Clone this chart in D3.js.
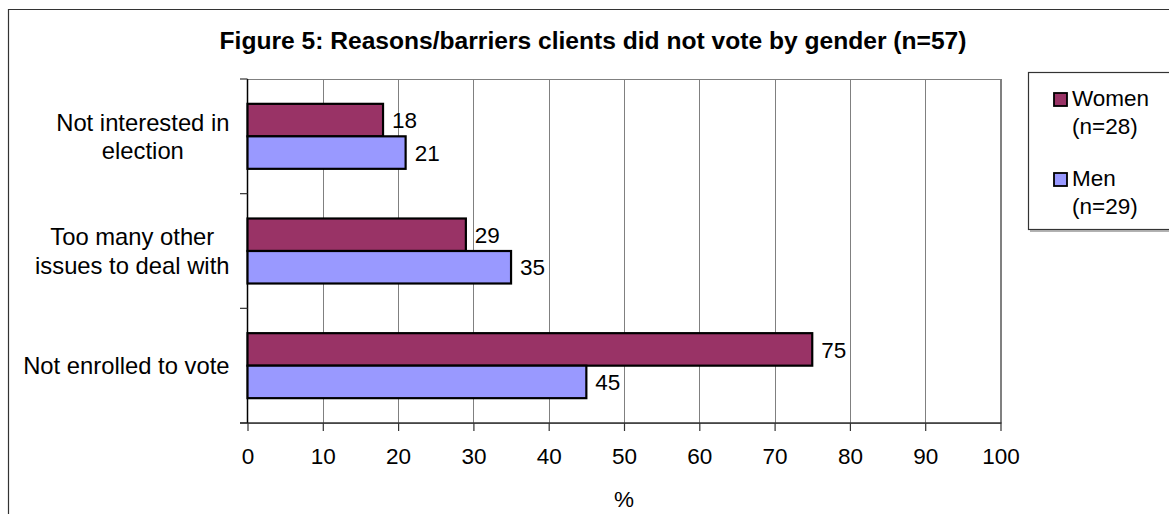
<!DOCTYPE html>
<html>
<head>
<meta charset="utf-8">
<script src="https://cdn.jsdelivr.net/npm/d3@7"></script>
<style>
  html, body { margin: 0; padding: 0; background: #fff; }
  svg { display: block; }
  text { font-family: "Liberation Sans", Arial, sans-serif; fill: #000; }
</style>
</head>
<body>
<svg id="chart" width="1169" height="514"></svg>
<script>
// Reasons for not voting, percentage of clients by gender
const categories = [
  ["Not interested in", "election"],
  ["Too many other", "issues to deal with"],
  ["Not enrolled to vote"]
];
const seriesNames = ["Women", "Men"];
const seriesLegend = [["Women", "(n=28)"], ["Men", "(n=29)"]];
const womenValues = [18, 29, 75];
const menValues = [21, 35, 45];
const xTicks = [0, 10, 20, 30, 40, 50, 60, 70, 80, 90, 100];
const colors = { Women: "#993366", Men: "#9999FF" };

const svg = d3.select("#chart");
const W = 1169, H = 514;

// outer chart frame (only top and left edges fall inside the view)
svg.append("path")
  .attr("d", `M8.5,${H} L8.5,9.5 L${W},9.5`)
  .attr("fill", "none").attr("stroke", "#333").attr("stroke-width", 1.2);

// title
svg.append("text")
  .attr("x", 593).attr("y", 49)
  .attr("text-anchor", "middle")
  .style("font-size", "24.6px").style("font-weight", "bold")
  .text("Figure 5: Reasons/barriers clients did not vote by gender (n=57)");

const plot = { left: 247.5, right: 1000.5, top: 79, bottom: 423 };

const x = d3.scaleLinear().domain([0, 100]).range([plot.left, plot.right]);
const catIdx = d3.range(categories.length);
const y = d3.scaleBand().domain(catIdx).range([plot.top, plot.bottom]).padding(0);

// plot area border (top/right visible)
svg.append("rect")
  .attr("x", plot.left).attr("y", plot.top + 0.5)
  .attr("width", plot.right - plot.left).attr("height", plot.bottom - plot.top)
  .attr("fill", "none").attr("stroke", "#808080").attr("stroke-width", 1);

// vertical gridlines
svg.append("g").selectAll("line")
  .data(xTicks.filter(d => d > 0))
  .join("line")
  .attr("x1", d => Math.round(x(d)) + 0.5).attr("x2", d => Math.round(x(d)) + 0.5)
  .attr("y1", plot.top).attr("y2", plot.bottom)
  .attr("stroke", "#808080").attr("stroke-width", 1);

// x axis
const xAxis = d3.axisBottom(x).tickValues(xTicks).tickSize(8).tickPadding(18).tickSizeOuter(0);
const gx = svg.append("g").attr("transform", `translate(0,${plot.bottom})`).call(xAxis);
gx.select(".domain").remove();
gx.selectAll(".tick line").attr("stroke", "#333").attr("stroke-width", 1.2);
gx.selectAll(".tick text").style("font-size", "22.5px").attr("fill", "#000")
  .attr("font-family", null).attr("dy", "0.71em").attr("y", 25);
svg.append("line")
  .attr("x1", 240).attr("x2", plot.right + 1)
  .attr("y1", plot.bottom).attr("y2", plot.bottom)
  .attr("stroke", "#333").attr("stroke-width", 1.5);

// y axis with tick marks between categories
svg.append("line")
  .attr("x1", plot.left).attr("x2", plot.left)
  .attr("y1", plot.top).attr("y2", plot.bottom)
  .attr("stroke", "#000").attr("stroke-width", 1.5);
const yTickPos = catIdx.map(i => y(i)).concat([plot.bottom]);
svg.append("g").selectAll("line")
  .data(yTickPos)
  .join("line")
  .attr("x1", 240).attr("x2", plot.left)
  .attr("y1", d => d).attr("y2", d => d)
  .attr("stroke", "#333").attr("stroke-width", 1.2);

// x axis title
svg.append("text")
  .attr("x", (plot.left + plot.right) / 2).attr("y", 507)
  .attr("text-anchor", "middle")
  .style("font-size", "22.5px")
  .text("%");

// bars
const barGroupH = 65;
const sub = d3.scaleBand().domain(seriesNames).range([0, barGroupH]).padding(0);
const rows = catIdx.map(i => ({ i, Women: womenValues[i], Men: menValues[i] }));

const gBars = svg.append("g");
rows.forEach(r => {
  const y0 = y(r.i) + (y.bandwidth() - barGroupH) / 2;
  seriesNames.forEach(s => {
    gBars.append("rect")
      .attr("x", x(0))
      .attr("y", y0 + sub(s))
      .attr("width", x(r[s]) - x(0))
      .attr("height", sub.bandwidth())
      .attr("fill", colors[s])
      .attr("stroke", "#000").attr("stroke-width", 2.2);
    gBars.append("text")
      .attr("x", x(r[s]) + 9)
      .attr("y", y0 + sub(s) + sub.bandwidth() / 2)
      .attr("dy", "0.36em")
      .style("font-size", "22.5px")
      .text(r[s]);
  });
});

// category labels: multi-line, centered on their widest line, right edge fixed
const labelRight = 229.5;
const lineH = 28.5;
categories.forEach((lines, i) => {
  const cy = y(i) + y.bandwidth() / 2;
  const g = svg.append("g");
  const texts = lines.map((t, k) => g.append("text")
    .style("font-size", "23.8px")
    .attr("text-anchor", "middle")
    .attr("y", cy + (k - (lines.length - 1) / 2) * lineH)
    .attr("dy", "0.36em")
    .text(t));
  const maxW = d3.max(texts, t => t.node().getComputedTextLength());
  texts.forEach(t => t.attr("x", labelRight - maxW / 2));
});

// legend
svg.append("rect")
  .attr("x", 1028.5).attr("y", 72.5)
  .attr("width", 160).attr("height", 157)
  .attr("fill", "#fff").attr("stroke", "#333").attr("stroke-width", 1.2);
svg.append("line")
  .attr("x1", 1030).attr("x2", W).attr("y1", 231).attr("y2", 231)
  .attr("stroke", "#999").attr("stroke-width", 1.5);

const legendBase = [106, 186];
seriesLegend.forEach((lines, k) => {
  const s = seriesNames[k];
  svg.append("rect")
    .attr("x", 1054).attr("y", legendBase[k] - 13)
    .attr("width", 13).attr("height", 13)
    .attr("fill", colors[s]).attr("stroke", "#000").attr("stroke-width", 1.8);
  lines.forEach((t, j) => {
    svg.append("text")
      .attr("x", 1072).attr("y", legendBase[k] + j * 27.7)
      .style("font-size", "22.5px")
      .text(t);
  });
});
</script>
</body>
</html>
